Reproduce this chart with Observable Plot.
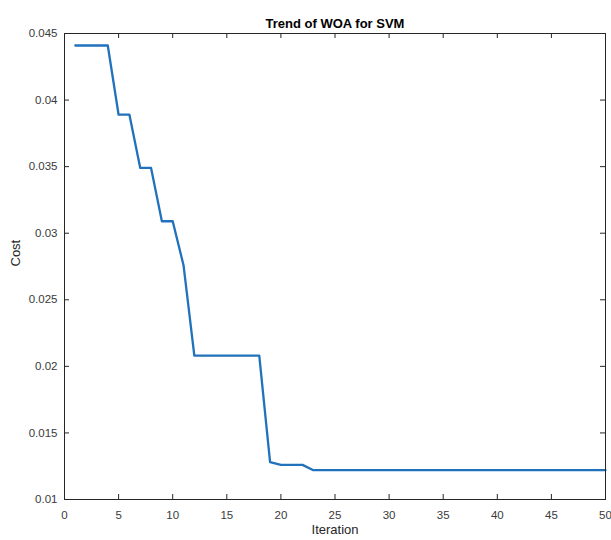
<!DOCTYPE html>
<html><head><meta charset="utf-8">
<script src="https://cdn.jsdelivr.net/npm/d3@7"></script>
<script src="https://cdn.jsdelivr.net/npm/@observablehq/plot@0.6"></script>
<style>body{margin:0;background:#fff;}</style>
</head><body><div id="chart"></div>
<script>
const chartTitle = "Trend of WOA for SVM";
const xLabel = "Iteration";
const yLabel = "Cost";
const iterations = [1,2,3,4,5,6,7,8,9,10,11,12,13,14,15,16,17,18,19,20,21,22,23,24,25,26,27,28,29,30,31,32,33,34,35,36,37,38,39,40,41,42,43,44,45,46,47,48,49,50];
const cost = [0.0441,0.0441,0.0441,0.0441,0.0389,0.0389,0.0349,0.0349,0.0309,0.0309,
  0.0276,0.0208,0.0208,0.0208,0.0208,0.0208,0.0208,0.0208,0.0128,0.0126,
  0.0126,0.0126,0.0122,0.0122,0.0122,0.0122,0.0122,0.0122,0.0122,0.0122,
  0.0122,0.0122,0.0122,0.0122,0.0122,0.0122,0.0122,0.0122,0.0122,0.0122,
  0.0122,0.0122,0.0122,0.0122,0.0122,0.0122,0.0122,0.0122,0.0122,0.0122];
const xTicks = [0,5,10,15,20,25,30,35,40,45,50];
const yTicks = [0.01,0.015,0.02,0.025,0.03,0.035,0.04,0.045];

const data = iterations.map((it, i) => ({it, c: cost[i]}));
const W = 611, H = 540, mL = 64, mR = 6, mT = 33, mB = 41;
const plotW = W - mL - mR, plotH = H - mT - mB;
const tickLen = 5;
const ink = "#262626";
const tickInk = "#3a3a3a";

const chart = Plot.plot({
  width: W, height: H,
  marginLeft: mL, marginRight: mR, marginTop: mT, marginBottom: mB,
  style: {fontFamily: "'Liberation Sans', Arial, sans-serif", fontSize: "11.5px", color: ink, background: "#fff"},
  x: {domain: [0, 50]},
  y: {domain: [0.01, 0.045]},
  marks: [
    Plot.axisX(xTicks, {tickSize: 0, tickPadding: 11, label: null, tickFormat: d => String(d), fill: tickInk}),
    Plot.axisY(yTicks, {tickSize: 0, tickPadding: 7, label: null, tickFormat: d => String(+d.toFixed(3)), fill: tickInk}),
    Plot.ruleX(xTicks, {x: d => d, insetTop: plotH - tickLen, stroke: ink}),
    Plot.ruleX(xTicks, {x: d => d, insetBottom: plotH - tickLen, stroke: ink}),
    Plot.ruleY(yTicks, {y: d => d, insetRight: plotW - tickLen, stroke: ink}),
    Plot.ruleY(yTicks, {y: d => d, insetLeft: plotW - tickLen, stroke: ink}),
    Plot.line(data, {x: "it", y: "c", stroke: "#1f72bb", strokeWidth: 2.3, strokeLinejoin: "round"}),
    Plot.frame({stroke: ink, strokeWidth: 1}),
    Plot.text([chartTitle], {frameAnchor: "top", dy: -14.5, text: d => d, fontWeight: "bold", fontSize: 13, fill: "#000"}),
    Plot.text([xLabel], {frameAnchor: "bottom", dy: 34, text: d => d, fontSize: 13, fill: ink}),
    Plot.text([yLabel], {frameAnchor: "left", dx: -49, rotate: -90, text: d => d, fontSize: 13, fill: ink})
  ]
});
document.getElementById("chart").appendChild(chart);
</script>
</body></html>
